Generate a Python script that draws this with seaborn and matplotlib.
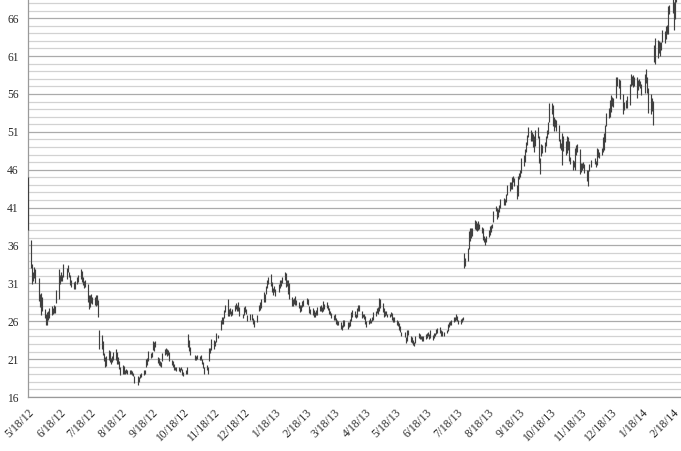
import pandas as pd
import numpy as np
import matplotlib
matplotlib.use("Agg")
import matplotlib.pyplot as plt
from matplotlib.ticker import MultipleLocator
import seaborn as sns

# ── Style ─────────────────────────────────────────────────────────────────────
sns.set_style("white")
plt.rcParams.update(
    {
        "font.family": ["Liberation Serif", "DejaVu Serif"],
        "font.size": 8.3,
        "axes.unicode_minus": False,
    }
)

# ── Daily (low, high) ranges, one list per month ──────────────────────────────
M2012_05 = [(38.00, 45.00), (33.00, 36.66), (30.94, 33.59), (31.36, 32.50), (31.77, 33.21),
            (31.11, 32.95), (28.65, 31.69), (27.86, 29.55), (26.83, 29.67)]
M2012_06 = [(27.39, 29.15), (26.44, 27.65), (25.52, 26.99), (25.52, 27.17), (26.15, 27.35),
            (26.44, 27.76), (26.83, 28.00), (26.96, 27.77), (27.10, 28.10), (27.14, 28.06),
            (28.35, 30.10), (28.96, 32.95), (30.90, 32.08), (31.36, 32.50), (31.36, 32.06),
            (31.84, 33.59), (31.55, 33.02), (32.50, 33.45), (31.90, 32.46), (30.75, 32.06),
            (30.55, 31.50)]
M2012_07 = [(30.20, 31.20), (30.30, 31.35), (30.85, 31.90), (31.20, 32.10), (31.60, 32.85),
            (31.20, 32.60), (30.80, 31.80), (30.40, 31.30), (30.55, 31.50), (28.60, 30.90),
            (27.60, 29.40), (27.90, 29.50), (28.40, 29.60), (28.30, 29.20), (28.20, 29.20),
            (28.00, 29.40), (28.20, 29.50), (26.60, 28.80), (22.30, 24.90), (22.30, 24.20),
            (21.60, 23.40)]
M2012_08 = [(20.80, 21.80), (19.90, 21.30), (20.10, 21.40), (20.90, 22.20), (20.60, 22.10),
            (20.40, 21.20), (20.60, 21.40), (20.90, 22.00), (20.90, 22.40), (20.30, 21.90),
            (20.40, 21.30), (19.70, 20.80), (18.90, 19.90), (19.00, 20.20), (19.10, 20.10),
            (19.10, 19.60), (19.20, 19.70), (19.10, 19.60), (19.00, 19.60), (19.00, 19.50),
            (18.90, 19.40), (18.80, 19.20), (17.90, 18.80)]
M2012_09 = [(17.55, 18.80), (18.00, 18.70), (18.50, 19.00), (18.70, 19.20), (18.90, 19.60),
            (19.00, 19.50), (20.00, 21.00), (20.20, 21.10), (20.80, 22.10), (21.20, 21.80),
            (21.30, 22.00), (22.20, 23.40), (22.10, 23.30), (22.60, 23.40), (20.50, 21.30),
            (20.20, 21.10), (20.10, 20.70), (20.00, 20.60), (20.80, 21.80)]
M2012_10 = [(21.50, 22.30), (21.70, 22.50), (21.40, 22.30), (21.60, 22.20), (20.80, 21.90),
            (20.20, 20.90), (20.00, 20.70), (19.50, 20.40), (19.60, 20.00), (19.40, 19.90),
            (19.40, 19.90), (19.30, 19.80), (19.50, 20.00), (18.90, 19.70), (18.80, 19.30),
            (19.00, 19.50), (19.10, 19.90), (22.60, 24.30), (22.10, 23.50), (21.50, 22.60),
            (20.90, 21.50)]
M2012_11 = [(20.90, 21.40), (21.00, 21.50), (20.90, 21.40), (20.90, 21.50), (20.30, 21.00),
            (19.80, 20.60), (19.00, 19.90), (19.50, 20.20), (19.00, 20.00), (20.70, 22.50),
            (21.80, 22.50), (22.20, 23.60), (22.40, 23.50), (22.70, 23.40), (23.20, 24.40),
            (23.80, 24.20), (24.80, 26.10), (25.60, 26.50), (25.60, 26.60), (26.40, 27.50),
            (27.20, 28.20)]
M2012_12 = [(26.70, 28.90), (26.70, 27.60), (27.00, 27.80), (26.70, 27.40), (26.80, 27.60),
            (27.30, 28.10), (27.60, 28.40), (27.40, 28.20), (27.40, 28.50), (26.70, 27.90),
            (26.40, 27.00), (26.80, 27.90), (27.20, 28.00), (27.00, 27.60), (26.00, 26.80),
            (26.20, 27.00), (26.20, 26.90), (25.60, 26.40), (25.30, 26.20), (25.90, 26.80)]
M2013_01 = [(27.30, 28.20), (27.50, 28.50), (27.70, 28.90), (28.60, 29.80), (28.60, 29.60),
            (29.60, 30.70), (30.40, 31.50), (30.90, 31.90), (30.60, 32.30), (29.90, 31.20),
            (29.50, 30.40), (29.80, 30.60), (29.30, 30.20), (29.80, 30.90), (30.40, 31.40),
            (30.60, 31.40), (31.00, 31.90), (31.40, 32.50), (30.50, 32.40), (30.70, 31.50),
            (29.60, 31.50)]
M2013_02 = [(29.00, 31.00), (28.00, 29.20), (28.00, 28.90), (28.30, 29.10), (28.10, 29.30),
            (28.10, 28.80), (27.70, 28.50), (27.20, 28.20), (27.30, 28.10), (27.90, 28.70),
            (28.00, 28.80), (28.30, 29.10), (28.20, 28.90), (27.10, 28.00), (26.90, 27.60),
            (26.80, 27.70), (26.60, 27.50), (26.50, 27.20), (26.80, 27.50)]
M2013_03 = [(26.80, 27.90), (27.30, 28.00), (27.30, 28.10), (27.20, 27.90), (27.40, 28.70),
            (27.60, 28.30), (27.80, 28.60), (27.50, 28.20), (26.90, 27.70), (26.80, 27.40),
            (26.40, 27.10), (26.10, 26.80), (26.10, 26.90), (25.70, 26.40), (25.50, 26.20),
            (25.50, 26.00), (25.00, 25.90), (24.90, 25.50), (25.20, 26.20), (25.40, 26.10)]
M2013_04 = [(25.00, 25.90), (25.20, 25.90), (25.40, 26.30), (26.00, 27.20), (26.50, 27.50),
            (26.60, 27.30), (26.40, 27.00), (26.60, 27.70), (27.30, 28.20), (27.30, 28.10),
            (26.40, 27.40), (26.50, 27.00), (26.30, 27.00), (25.60, 26.70), (25.20, 26.00),
            (25.60, 26.10), (25.80, 26.40), (25.80, 26.20), (26.00, 26.50), (26.20, 27.20),
            (26.70, 27.40), (27.10, 27.80)]
M2013_05 = [(27.00, 27.90), (27.40, 29.10), (27.80, 28.90), (27.20, 28.40), (26.60, 27.70),
            (26.70, 27.30), (26.80, 27.40), (26.50, 27.00), (26.50, 27.00), (26.70, 27.20),
            (26.20, 27.10), (25.90, 26.60), (25.90, 26.50), (25.50, 26.20), (25.40, 26.00),
            (24.90, 25.80), (24.60, 25.40), (24.00, 24.60), (23.90, 24.60), (23.10, 23.90),
            (23.40, 24.80), (24.20, 24.80)]
M2013_06 = [(23.30, 24.00), (23.10, 23.90), (22.80, 23.50), (22.70, 23.20), (23.10, 24.10),
            (23.80, 24.50), (23.60, 24.30), (23.60, 24.10), (23.40, 24.00), (23.40, 24.10),
            (23.70, 24.30), (23.80, 24.50), (24.00, 24.60), (23.60, 24.30), (23.80, 24.90),
            (23.50, 24.20), (23.80, 24.40), (24.00, 24.50), (24.30, 25.00), (24.40, 25.10)]
M2013_07 = [(24.40, 25.30), (24.10, 24.90), (24.10, 24.70), (24.00, 24.60), (24.40, 24.90),
            (24.70, 25.60), (25.20, 25.90), (25.50, 26.00), (25.50, 26.10), (25.90, 26.50),
            (26.00, 26.60), (26.20, 26.90), (26.00, 26.70), (25.70, 26.20), (25.70, 26.30),
            (25.90, 26.40), (26.20, 26.60), (33.00, 35.00), (33.30, 34.40), (34.00, 35.70),
            (35.50, 37.90), (36.60, 38.30)]
M2013_08 = [(37.00, 38.30), (37.30, 38.30), (38.20, 39.30), (38.00, 39.20), (37.90, 39.00),
            (38.00, 39.20), (38.20, 38.90), (37.70, 38.50), (36.70, 38.30), (36.40, 37.30),
            (36.00, 37.00), (36.50, 37.20), (37.10, 38.00), (37.40, 38.60), (37.80, 38.70),
            (38.30, 38.90), (39.10, 40.60), (40.50, 41.20), (39.50, 41.00), (39.70, 40.80),
            (40.40, 41.30), (40.90, 42.20)]
M2013_09 = [(41.30, 42.30), (41.30, 42.20), (41.80, 42.80), (42.60, 44.00), (43.20, 44.40),
            (43.40, 44.40), (43.50, 45.10), (44.40, 45.20), (43.80, 44.90), (42.20, 44.00),
            (42.50, 45.20), (44.80, 45.60), (45.00, 46.00), (45.60, 47.60), (46.50, 47.90),
            (47.00, 48.70), (48.40, 49.70), (49.20, 50.60), (50.30, 51.60), (49.80, 51.30)]
M2013_10 = [(49.80, 51.00), (49.00, 50.70), (48.40, 50.40), (49.10, 51.20), (50.20, 51.70),
            (46.90, 50.50), (45.40, 47.50), (47.80, 49.40), (48.20, 49.30), (48.30, 49.70),
            (49.10, 50.50), (50.20, 51.20), (50.70, 52.30), (52.30, 54.80), (53.40, 54.80),
            (51.80, 54.60), (51.10, 52.90), (51.60, 52.70), (51.10, 52.60), (49.80, 51.90),
            (48.80, 50.00), (48.60, 49.50), (46.60, 50.90)]
M2013_11 = [(48.50, 50.40), (47.90, 49.80), (48.20, 50.40), (48.60, 50.30), (47.20, 49.80),
            (46.80, 47.70), (45.90, 47.30), (46.30, 47.10), (46.00, 48.80), (48.00, 49.30),
            (48.40, 49.40), (45.40, 48.70), (45.70, 46.90), (46.00, 46.90), (46.20, 47.00),
            (45.60, 46.80), (44.50, 46.00), (43.80, 46.00), (45.80, 46.80), (46.40, 47.30)]
M2013_12 = [(46.70, 47.60), (46.30, 47.20), (46.60, 48.80), (47.70, 48.70), (47.50, 48.40),
            (47.90, 48.90), (48.30, 50.30), (48.60, 50.80), (49.60, 51.90), (51.80, 53.50),
            (52.80, 54.20), (53.00, 55.20), (53.60, 55.90), (54.40, 55.60), (54.30, 55.50),
            (55.40, 58.30), (57.00, 58.30), (56.80, 58.00), (55.30, 57.90), (53.40, 56.00),
            (53.90, 54.90)]
M2014_01 = [(54.20, 55.20), (54.20, 55.70), (54.60, 57.30), (57.00, 58.60), (57.20, 58.40),
            (56.90, 58.50), (57.00, 58.20), (55.50, 58.30), (56.50, 57.80), (57.00, 58.00),
            (56.80, 57.70), (55.80, 57.30), (56.10, 58.60), (57.40, 59.30), (56.10, 58.20),
            (53.50, 56.80), (53.30, 56.00), (53.80, 55.40), (51.90, 55.10), (60.20, 62.50),
            (60.00, 63.40)]
M2014_02 = [(60.70, 63.10), (61.40, 63.00), (61.00, 62.80), (61.80, 62.80), (62.80, 64.50),
            (62.70, 64.30), (63.20, 65.00), (63.90, 65.10), (63.90, 67.60), (66.60, 67.70),
            (66.70, 69.80), (64.40, 68.10), (65.90, 69.70), (68.10, 69.90)]

MONTHS = [M2012_05, M2012_06, M2012_07, M2012_08, M2012_09, M2012_10, M2012_11, M2012_12,
          M2013_01, M2013_02, M2013_03, M2013_04, M2013_05, M2013_06, M2013_07, M2013_08,
          M2013_09, M2013_10, M2013_11, M2013_12, M2014_01, M2014_02]

# Market closures inside the period
HOLIDAYS = ["2012-05-28", "2012-07-04", "2012-09-03", "2012-10-29", "2012-10-30",
            "2012-11-22", "2012-12-25", "2013-01-01", "2013-01-21", "2013-02-18",
            "2013-03-29", "2013-05-27", "2013-07-04", "2013-09-02", "2013-11-28",
            "2013-12-25", "2014-01-01", "2014-01-20", "2014-02-17"]

FIRST_DAY = "2012-05-18"
LAST_DAY = "2014-02-21"
Y_TICKS = list(range(16, 67, 5))

# ── Build the frame ───────────────────────────────────────────────────────────
days = pd.bdate_range(FIRST_DAY, LAST_DAY)
days = days[~days.isin(pd.to_datetime(HOLIDAYS))]
pairs = [p for month in MONTHS for p in month]
assert len(days) == len(pairs), (len(days), len(pairs))
df = pd.DataFrame(pairs, columns=["low", "high"])
df["date"] = days

# ── Plot ──────────────────────────────────────────────────────────────────────
fig = plt.figure(figsize=(6.81, 4.51), dpi=100)
ax = fig.add_axes([28.3 / 681, 54 / 451, 1 - 28.3 / 681, 397 / 451])

ax.vlines(df["date"], df["low"], df["high"], color="#404040", linewidth=0.85, zorder=3)

ax.set_ylim(16, 68.4)
ax.set_xlim(pd.Timestamp("2012-05-18"), pd.Timestamp("2014-02-26"))

ax.set_yticks(Y_TICKS)
ax.yaxis.set_minor_locator(MultipleLocator(1))
ax.grid(which="minor", axis="y", color="#d2d2d2", linewidth=0.9)
ax.grid(which="major", axis="y", color="#ababab", linewidth=0.9)
ax.grid(which="both", axis="x", visible=False)

xticks = [pd.Timestamp(FIRST_DAY) + pd.DateOffset(months=i) for i in range(22)]
ax.set_xticks(xticks)
ax.set_xticklabels([f"{t.month}/{t.day}/{t.strftime('%y')}" for t in xticks],
                   rotation=45, ha="right", rotation_mode="anchor")

ax.tick_params(axis="both", which="major", direction="out", length=4, width=0.8,
               color="#9a9a9a", labelcolor="#2a2a2a", labelsize=8.3, pad=3)
ax.tick_params(axis="y", which="minor", length=0)

for side in ["top", "right"]:
    ax.spines[side].set_visible(False)
for side in ["left", "bottom"]:
    ax.spines[side].set_color("#9a9a9a")
    ax.spines[side].set_linewidth(0.9)

fig.savefig("out.png", dpi=100)
